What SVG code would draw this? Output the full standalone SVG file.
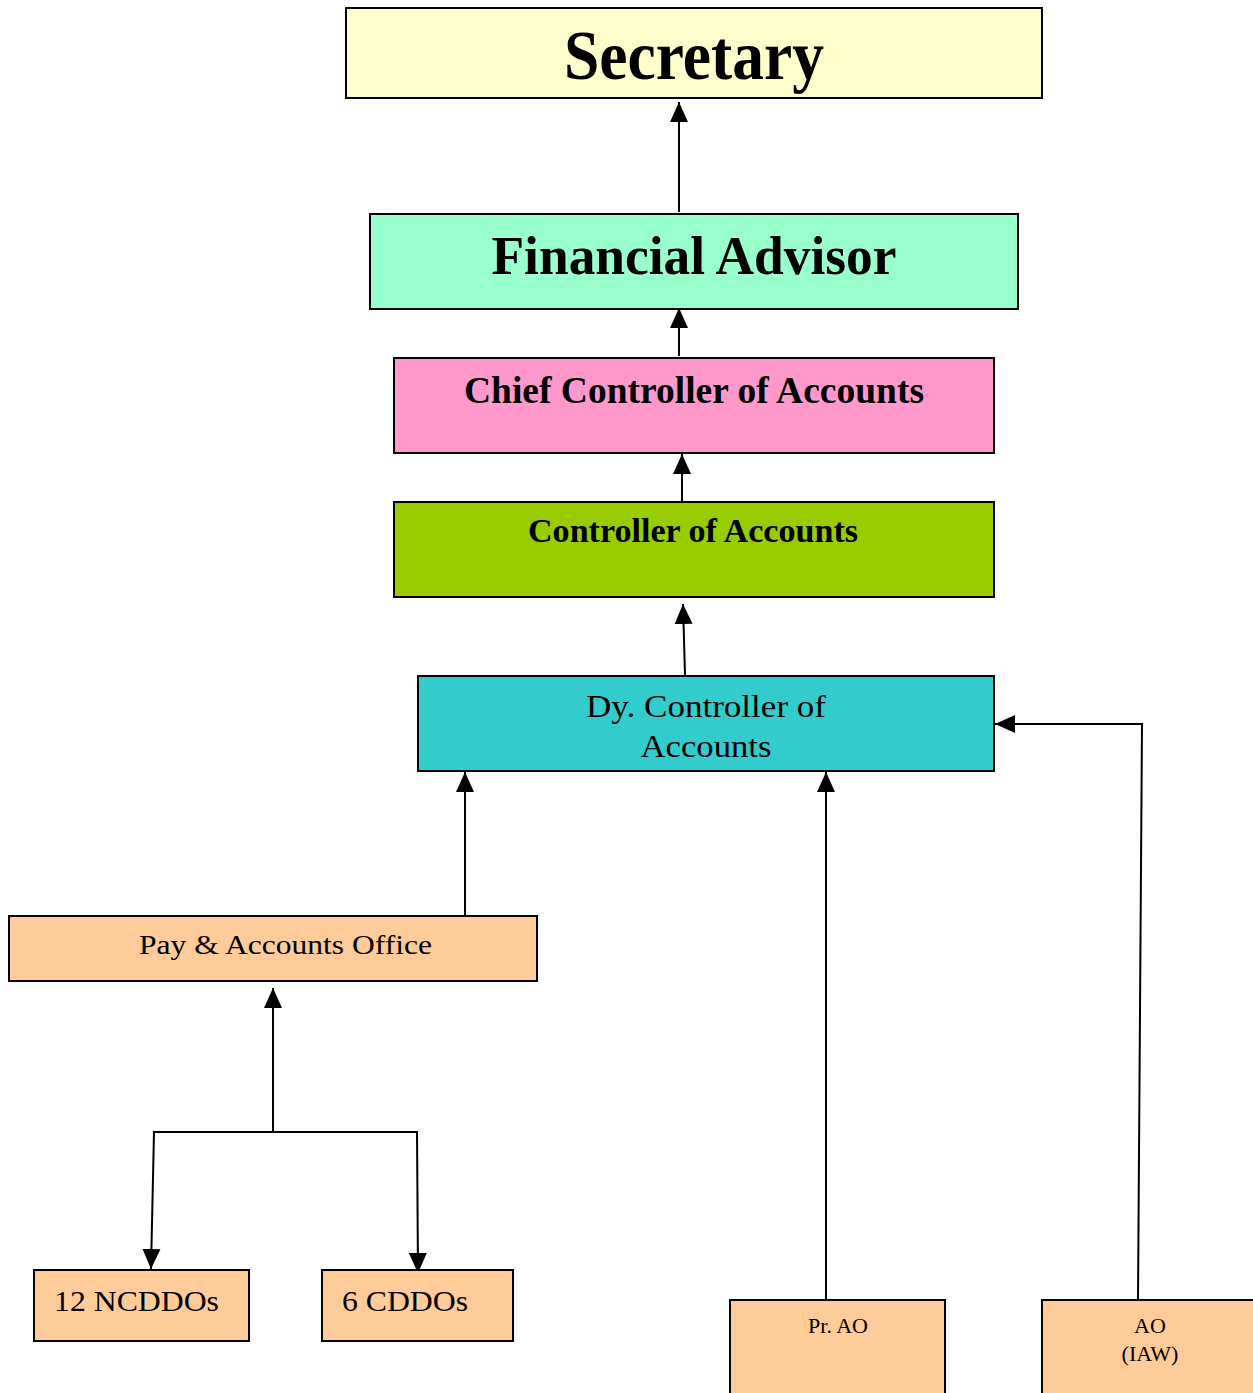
<svg xmlns="http://www.w3.org/2000/svg" width="1253" height="1393" viewBox="0 0 1253 1393">
<defs>
<style>
.box{stroke:#000;stroke-width:2}
.t{font-family:"Liberation Serif","Times New Roman",serif;fill:#000}
.b{font-weight:bold}
.c{text-anchor:middle}
.con{stroke:#000;stroke-width:2;fill:none}
</style>
<marker id="ah" markerUnits="userSpaceOnUse" markerWidth="20" markerHeight="20" viewBox="0 0 20 20" refX="20" refY="10" orient="auto">
<path d="M0,1 L20,10 L0,19 Z" fill="#000"/>
</marker>
</defs>
<rect x="0" y="0" width="1253" height="1393" fill="#fff"/>
<g id="connectors">
<line class="con" x1="679" y1="212" x2="679" y2="102" marker-end="url(#ah)"/>
<line class="con" x1="679" y1="356" x2="679" y2="308" marker-end="url(#ah)"/>
<line class="con" x1="682" y1="501" x2="682" y2="454" marker-end="url(#ah)"/>
<line class="con" x1="685" y1="675" x2="683" y2="604" marker-end="url(#ah)"/>
<line class="con" x1="465" y1="915" x2="465" y2="772" marker-end="url(#ah)"/>
<line class="con" x1="826" y1="1299" x2="826" y2="772" marker-end="url(#ah)"/>
<polyline class="con" points="1138,1299 1142,724 995,724" marker-end="url(#ah)"/>
<line class="con" x1="273" y1="1132" x2="273" y2="988" marker-end="url(#ah)"/>
<polyline class="con" points="273,1132 154,1132 151,1269" marker-end="url(#ah)"/>
<polyline class="con" points="273,1132 417,1132 418,1273" marker-end="url(#ah)"/>
</g>
<g id="secretary">
<rect class="box" x="346" y="8" width="696" height="90" fill="#FFFFCC"/>
<text class="t b c" x="694" y="79" font-size="70" textLength="260" lengthAdjust="spacingAndGlyphs">Secretary</text>
</g>
<g id="financial-advisor">
<rect class="box" x="370" y="214" width="648" height="95" fill="#99FFCC"/>
<text class="t b c" x="694" y="274" font-size="54" textLength="405" lengthAdjust="spacingAndGlyphs">Financial Advisor</text>
</g>
<g id="chief-controller">
<rect class="box" x="394" y="358" width="600" height="95" fill="#FF99CC"/>
<text class="t b c" x="694" y="403" font-size="37" textLength="460" lengthAdjust="spacingAndGlyphs">Chief Controller of Accounts</text>
</g>
<g id="controller">
<rect class="box" x="394" y="502" width="600" height="95" fill="#99CC00"/>
<text class="t b c" x="693" y="542" font-size="33" textLength="330" lengthAdjust="spacingAndGlyphs">Controller of Accounts</text>
</g>
<g id="dy-controller">
<rect class="box" x="418" y="676" width="576" height="95" fill="#33CCCC"/>
<text class="t c" x="706" y="717" font-size="31" textLength="240" lengthAdjust="spacingAndGlyphs">Dy. Controller of</text>
<text class="t c" x="706" y="757" font-size="31" textLength="131" lengthAdjust="spacingAndGlyphs">Accounts</text>
</g>
<g id="pao">
<rect class="box" x="9" y="916" width="528" height="65" fill="#FFCC99"/>
<text class="t c" x="285.5" y="954" font-size="28" textLength="293" lengthAdjust="spacingAndGlyphs">Pay &amp; Accounts Office</text>
</g>
<g id="ncddos">
<rect class="box" x="34" y="1270" width="215" height="71" fill="#FFCC99"/>
<text class="t" x="54" y="1311" font-size="30" textLength="165" lengthAdjust="spacingAndGlyphs">12 NCDDOs</text>
</g>
<g id="cddos">
<rect class="box" x="322" y="1270" width="191" height="71" fill="#FFCC99"/>
<text class="t" x="342" y="1311" font-size="30" textLength="126" lengthAdjust="spacingAndGlyphs">6 CDDOs</text>
</g>
<g id="pr-ao">
<rect class="box" x="730" y="1300" width="215" height="100" fill="#FFCC99"/>
<text class="t c" x="838" y="1333" font-size="22">Pr. AO</text>
</g>
<g id="ao-iaw">
<rect class="box" x="1042" y="1300" width="220" height="100" fill="#FFCC99"/>
<text class="t c" x="1150" y="1333" font-size="22">AO</text>
<text class="t c" x="1150" y="1361" font-size="22">(IAW)</text>
</g>
</svg>
